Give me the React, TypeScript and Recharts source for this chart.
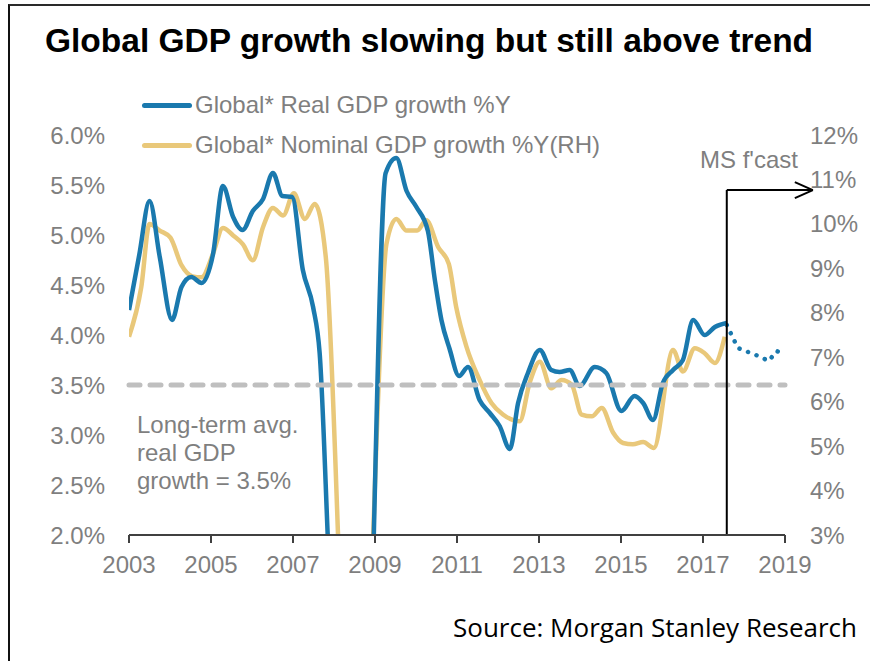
import { LineChart, Line, XAxis, YAxis, ReferenceLine } from 'recharts';

// Global* real GDP growth %Y (left axis)
const realDates = [
  2003.0, 2003.25, 2003.5, 2003.75, 2004.05, 2004.28, 2004.52, 2004.77, 2005.05, 2005.29,
  2005.54, 2005.77, 2006.02, 2006.27, 2006.51, 2006.74, 2006.98, 2007.24, 2007.49, 2007.65,
  2007.9, 2008.2, 2008.5, 2008.75, 2009.26, 2009.52, 2009.77, 2010.01, 2010.29, 2010.46,
  2010.62, 2010.82, 2011.05, 2011.27, 2011.55, 2011.8, 2012.04, 2012.29, 2012.49, 2012.73,
  2013.02, 2013.3, 2013.5, 2013.75, 2013.99, 2014.36, 2014.64, 2015.01, 2015.33, 2015.54,
  2015.78, 2016.02, 2016.27, 2016.51, 2016.76, 2017.04, 2017.29, 2017.58,
];
const realValues = [
  4.25, 4.8, 5.34, 4.78, 4.15, 4.48, 4.58, 4.52, 4.81, 5.49,
  5.18, 5.05, 5.24, 5.36, 5.62, 5.39, 5.38, 4.65, 4.28, 3.82,
  1.5, -0.5, -1.2, -0.75, 5.62, 5.77, 5.44, 5.28, 5.04, 4.55,
  4.15, 3.86, 3.59, 3.68, 3.35, 3.22, 3.09, 2.86, 3.32, 3.62,
  3.85, 3.65, 3.63, 3.65, 3.49, 3.68, 3.62, 3.24, 3.39, 3.32,
  3.15, 3.52, 3.65, 3.75, 4.15, 4.0, 4.08, 4.12,
];

// Global* nominal GDP growth %Y (right axis)
const nominalDates = [
  2003.0, 2003.3, 2003.5, 2003.75, 2004.01, 2004.28, 2004.55, 2004.77, 2005.05, 2005.29,
  2005.54, 2005.78, 2006.02, 2006.27, 2006.51, 2006.76, 2007.02, 2007.29, 2007.53, 2007.8,
  2008.3, 2008.5, 2008.75, 2009.28, 2009.52, 2009.77, 2010.03, 2010.25, 2010.54, 2010.8,
  2010.98, 2011.23, 2011.55, 2011.84, 2012.12, 2012.53, 2012.77, 2013.02, 2013.3, 2013.55,
  2013.8, 2014.04, 2014.29, 2014.53, 2014.81, 2015.05, 2015.29, 2015.54, 2015.8, 2016.27,
  2016.51, 2016.8, 2017.04, 2017.29, 2017.53,
];
const nominalValues = [
  7.46, 8.58, 10.0, 9.85, 9.69, 9.07, 8.82, 8.8, 9.33, 9.91,
  9.74, 9.54, 9.18, 9.93, 10.36, 10.19, 10.69, 10.11, 10.45, 9.25,
  -1.2, -3.0, -1.3, 9.55, 10.11, 9.85, 9.85, 10.08, 9.48, 9.1,
  8.13, 7.24, 6.49, 5.97, 5.71, 5.56, 6.42, 6.9, 6.3, 6.49,
  6.38, 5.71, 5.67, 5.86, 5.3, 5.07, 5.04, 5.09, 4.96, 7.16,
  6.68, 7.2, 7.09, 6.87, 7.46,
];

// MS forecast of real GDP growth (dotted)
const forecastDates = [2017.58, 2017.85, 2018.1, 2018.35, 2018.6, 2018.8, 2019.0];
const forecastValues = [4.1, 3.87, 3.83, 3.79, 3.74, 3.84, 3.8];

const yearTicks = [2003, 2005, 2007, 2009, 2011, 2013, 2015, 2017, 2019];
const leftTicks = [2, 2.5, 3, 3.5, 4, 4.5, 5, 5.5, 6];
const rightTicks = [3, 4, 5, 6, 7, 8, 9, 10, 11, 12];
const TREND = 3.5;

// forecast marker (x in years, y on right axis)
const FCAST_X = 2017.58;
const ARROW_Y = 10.76;
const ARROW_TIP = 2019.68;
const HEAD_BACK = 2019.24;
const HEAD_SPREAD = 0.18;

const BLUE = '#1a79ae';
const GOLD = '#e9c87a';
const GREY = '#7f7f7f';
const FONT = "'Liberation Sans', Arial, sans-serif";

const realData = realDates.map((x, i) => ({ x, v: realValues[i] }));
const nominalData = nominalDates.map((x, i) => ({ x, v: nominalValues[i] }));
const forecastData = forecastDates.map((x, i) => ({ x, v: forecastValues[i] }));

const tickStyle = { fill: GREY, fontSize: 24, fontFamily: FONT };

export default function App() {
  return (
    <div style={{ position: 'absolute', left: 0, top: 0, width: 870, height: 661, background: '#fff', overflow: 'hidden', fontFamily: FONT }}>
      <div style={{ position: 'absolute', left: 8, top: 4, width: 870, height: 670, borderTop: '2px solid #2a2a2a', borderLeft: '2px solid #111' }} />

      <div style={{ position: 'absolute', left: 0, top: 0 }}>
        <LineChart width={870} height={661} margin={{ top: 135, right: 0, bottom: 86, left: 0 }} style={{ fontFamily: FONT }}>
          <XAxis
            dataKey="x"
            type="number"
            domain={[2003, 2019]}
            ticks={yearTicks}
            interval={0}
            allowDataOverflow
            height={40}
            tick={tickStyle}
            tickSize={8}
            tickMargin={13}
            axisLine={{ stroke: '#404040', strokeWidth: 2 }}
            tickLine={{ stroke: '#404040', strokeWidth: 2 }}
          />
          <YAxis
            yAxisId="left"
            domain={[2, 6]}
            ticks={leftTicks}
            interval={0}
            allowDataOverflow
            width={129}
            tick={tickStyle}
            tickFormatter={(v: number) => `${v.toFixed(1)}%`}
            axisLine={false}
            tickLine={false}
            tickSize={15}
            tickMargin={9}
          />
          <YAxis
            yAxisId="right"
            orientation="right"
            domain={[3, 12]}
            ticks={rightTicks}
            interval={0}
            allowDataOverflow
            width={85}
            tick={tickStyle}
            tickFormatter={(v: number) => `${v}%`}
            axisLine={false}
            tickLine={false}
            tickSize={16}
            tickMargin={9}
          />
          <Line
            yAxisId="right"
            data={nominalData}
            dataKey="v"
            type="monotone"
            stroke={GOLD}
            strokeWidth={4.5}
            strokeLinejoin="round"
            dot={false}
            isAnimationActive={false}
          />
          <Line
            yAxisId="left"
            data={realData}
            dataKey="v"
            type="monotone"
            stroke={BLUE}
            strokeWidth={4.5}
            strokeLinejoin="round"
            dot={false}
            isAnimationActive={false}
          />
          <Line
            yAxisId="left"
            data={forecastData}
            dataKey="v"
            type="linear"
            stroke={BLUE}
            strokeWidth={4.5}
            strokeDasharray="0.1 9"
            strokeLinecap="round"
            dot={false}
            isAnimationActive={false}
          />
          <ReferenceLine
            yAxisId="left"
            y={TREND}
            stroke="#bfbfbf"
            strokeWidth={5}
            strokeDasharray="11 10"
            strokeLinecap="round"
          />
          <ReferenceLine yAxisId="right" ifOverflow="visible" stroke="#000" strokeWidth={2}
            segment={[{ x: FCAST_X, y: 3 }, { x: FCAST_X, y: ARROW_Y }]} />
          <ReferenceLine yAxisId="right" ifOverflow="visible" stroke="#000" strokeWidth={2}
            segment={[{ x: FCAST_X, y: ARROW_Y }, { x: ARROW_TIP, y: ARROW_Y }]} />
          <ReferenceLine yAxisId="right" ifOverflow="visible" stroke="#000" strokeWidth={2}
            segment={[{ x: HEAD_BACK, y: ARROW_Y + HEAD_SPREAD }, { x: ARROW_TIP, y: ARROW_Y }]} />
          <ReferenceLine yAxisId="right" ifOverflow="visible" stroke="#000" strokeWidth={2}
            segment={[{ x: HEAD_BACK, y: ARROW_Y - HEAD_SPREAD }, { x: ARROW_TIP, y: ARROW_Y }]} />
        </LineChart>
      </div>

      <div style={{ position: 'absolute', left: 45, top: 21, fontSize: 33.5, lineHeight: '40px', fontWeight: 'bold', color: '#000', whiteSpace: 'nowrap' }}>
        Global GDP growth slowing but still above trend
      </div>

      {[
        { label: 'Global* Real GDP growth %Y', color: BLUE, top: 90 },
        { label: 'Global* Nominal GDP growth %Y(RH)', color: GOLD, top: 130 },
      ].map(item => (
        <div key={item.label} style={{ position: 'absolute', left: 142, top: item.top, height: 30, display: 'flex', alignItems: 'center', fontSize: 24, lineHeight: '30px', color: GREY, whiteSpace: 'nowrap' }}>
          <span style={{ display: 'inline-block', width: 50, height: 5, borderRadius: 3, background: item.color, marginRight: 3 }} />
          {item.label}
        </div>
      ))}

      <div style={{ position: 'absolute', left: 700, top: 145, fontSize: 24, lineHeight: '30px', color: GREY, whiteSpace: 'nowrap' }}>
        MS f'cast
      </div>

      <div style={{ position: 'absolute', left: 137, top: 411, fontSize: 24, lineHeight: '28px', color: GREY }}>
        Long-term avg.<br />real GDP<br />growth = 3.5%
      </div>

      <svg style={{ position: 'absolute', left: 0, top: 600 }} width={870} height={50}>
        <text x={857} y={37} textAnchor="end" fontSize={26} fill="#000" fontFamily="'Open Sans', sans-serif">
          Source: Morgan Stanley Research
        </text>
      </svg>
    </div>
  );
}
